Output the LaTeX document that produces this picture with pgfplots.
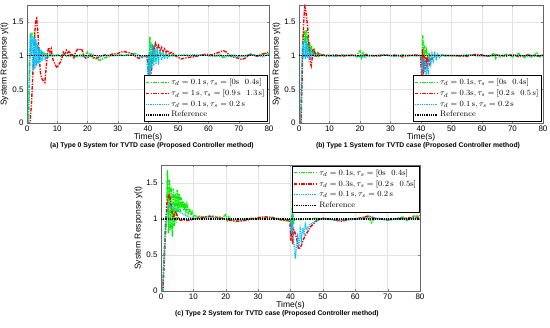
\documentclass[border=0pt]{standalone}
\usepackage{fontspec}
\setsansfont{Liberation Sans}
\usepackage{pgfplots}
\pgfplotsset{compat=1.18}
\definecolor{cgreen}{RGB}{0,240,0}
\definecolor{cred}{RGB}{255,0,0}
\definecolor{ccyan}{RGB}{0,190,255}
\pgfplotsset{
 myax/.style={
  scale only axis, xmin=0, xmax=80, ymin=0, ymax=1.75,
  xtick={0,10,...,80}, ytick={0,0.5,1,1.5},
  grid=major, grid style={gray!22, line width=0.3pt},
  axis line style={gray!80!black, line width=0.4pt},
  major tick length=2pt,
  tick label style={font=\sffamily\fontsize{8}{9}\selectfont},
  /pgf/number format/assume math mode=true,
  label style={font=\sffamily\fontsize{8.5}{9}\selectfont},
  xlabel={Time(s)}, ylabel={System Response y(t)},
  xlabel style={yshift=5pt},
  ylabel style={yshift=-3pt},
  xticklabel style={yshift=1pt},
  legend cell align=left,
  legend style={font=\fontsize{8}{9}\selectfont, draw=black, line width=0.4pt, fill=white, inner sep=1.2pt, row sep=-0.3pt},
  legend image code/.code={\draw[#1] plot coordinates {(0cm,0cm) (0.8cm,0cm)};},
 },
 gr/.style={color=cgreen, line width=1.4pt, dash pattern=on 3.5pt off 1.3pt on 1.2pt off 1.3pt},
 rd/.style={color=cred, line width=1.4pt, dash pattern=on 3.5pt off 1.3pt on 1.2pt off 1.3pt},
 cy/.style={color=ccyan, line width=1.4pt, dash pattern=on 0.9pt off 0.9pt},
 rf/.style={color=black, line width=1.4pt, dash pattern=on 0.9pt off 0.9pt},
}
\begin{document}
\begin{tikzpicture}
\useasboundingbox (0,0) rectangle (550pt,328pt);
% ---------------- (a)
\begin{axis}[myax, at={(27pt,205pt)}, anchor=south west, width=242pt, height=118pt,
  legend style={at={(0.995,0.01)}, anchor=south east}]
\addplot[gr] coordinates {(0,0) (0.5,0) (1.0,1.0) (1.2,1.33) (1.6,1.32) (2.0,1.33) (2.5,1.34) (2.8,1.2) (3.2,1.15) (3.6,1.08) (4,1.12) (4.5,1.02) (5,1.05) (5.5,0.98) (6,1.03) (7,1.0) (8,1.02) (9,1.0) (10,1.01) (11,0.99) (12,1.02) (13,0.99) (14,1.01) (15,1.0) (16,0.98) (17,1.0) (18,1.02) (19,0.98) (20,1.05) (20.5,0.98) (21,1.04) (22,0.96) (23,0.95) (24,0.93) (25,0.95) (26,0.97) (27,0.99) (28,1.0) (30,1.01) (32,1.0) (34,1.02) (36,1.03) (37,1.0) (38,0.98) (39,0.99) (40,1.0) (40.3,0.72) (40.6,1.28) (41,0.8) (41.4,1.18) (41.8,0.9) (42.2,1.1) (42.6,0.95) (43,1.06) (43.5,0.98) (44,1.04) (45,1.0) (46,1.02) (47,0.99) (48,1.01) (50,1.0) (52,1.01) (54,0.99) (56,1.0) (58,1.01) (60,1.0) (62,0.99) (64,1.02) (65,0.96) (66,1.0) (68,1.01) (70,0.99) (72,1.0) (74,1.02) (76,0.99) (78,1.03) (80,1.02)};
\addlegendentry{$\tau_d = 0.1\,\mathrm{s}, \tau_s = [0\mathrm{s}\ \ 0.4\mathrm{s}]$}
\addplot[rd] coordinates {(0,0) (1.0,0) (1.5,0.3) (2,0.8) (2.5,1.3) (2.9,1.52) (3.2,1.55) (3.6,1.35) (4,1.0) (4.5,0.72) (5,0.65) (5.5,0.62) (5.9,0.6) (6.3,0.8) (6.8,1.05) (7.2,1.12) (7.6,1.05) (8,1.1) (8.5,0.95) (9,0.9) (9.5,0.85) (10,0.82) (10.5,0.87) (11,0.9) (11.5,0.96) (12,1.05) (12.5,1.02) (13,1.08) (13.5,1.04) (14,1.07) (14.5,1.0) (15,1.03) (15.5,0.97) (16,1.05) (16.5,1.08) (17,1.1) (17.5,1.09) (18,1.1) (18.5,1.05) (19,0.98) (19.5,0.96) (20,0.97) (21,1.0) (22,0.97) (23,0.96) (24,0.98) (25,1.0) (26,1.01) (27,1.0) (28,1.02) (30,1.03) (31,1.05) (32,1.06) (33,1.05) (34,1.04) (35,1.02) (36,0.98) (37,0.96) (38,0.97) (39,0.99) (39.8,1.0) (40.1,0.75) (40.4,0.66) (40.8,0.65) (41.2,0.8) (41.6,1.15) (42,1.08) (42.5,1.18) (43,1.1) (43.5,1.15) (44,1.07) (44.5,1.12) (45,1.06) (45.5,1.1) (46,1.05) (46.5,1.08) (47,1.03) (48,1.05) (49,1.0) (50,0.97) (51,0.95) (52,0.96) (53,0.97) (55,0.98) (57,1.0) (59,1.02) (61,1.01) (63,1.04) (64,1.06) (65,1.07) (66,1.05) (67,1.0) (68,0.98) (69,0.97) (70,0.96) (71,0.94) (72,0.96) (73,0.99) (74,1.02) (75,1.01) (76,0.99) (77,1.0) (78,1.02) (79,1.04) (80,1.05)};
\addlegendentry{$\tau_d = 1\,\mathrm{s}, \tau_s = [0.9\,\mathrm{s}\ \ 1.3\,\mathrm{s}]$}
\addplot[cy] coordinates {(0,0) (0.4,0) (0.8,0.9) (1.1,1.3) (1.4,1.0) (1.7,1.3) (2.0,0.78) (2.3,1.28) (2.6,0.8) (2.9,1.25) (3.2,0.85) (3.5,1.18) (3.8,0.88) (4.1,1.12) (4.4,0.9) (4.7,1.08) (5.0,0.92) (5.5,1.05) (6,0.95) (6.5,1.03) (7,0.97) (8,1.01) (9,0.99) (10,1.0) (12,1.01) (14,0.99) (16,1.01) (18,0.98) (20,0.99) (22,1.01) (24,0.98) (26,1.0) (30,1.0) (35,1.01) (38,0.98) (39.5,1.0) (40.1,0.65) (40.4,1.05) (40.7,0.7) (41,1.2) (41.3,0.8) (41.6,1.15) (41.9,0.85) (42.3,1.1) (42.7,0.88) (43.1,1.07) (43.5,0.92) (44,1.05) (44.5,0.93) (45,1.03) (45.5,0.95) (46,1.02) (46.5,0.97) (47,1.01) (48,0.99) (50,1.0) (55,1.01) (60,1.0) (65,0.99) (70,0.98) (75,1.01) (78,0.98) (80,1.03)};
\addlegendentry{$\tau_d = 0.1\,\mathrm{s}, \tau_s = 0.2\,\mathrm{s}$}
\addplot[rf] coordinates {(0,1) (80,1)};
\addlegendentry{Reference}
\end{axis}
% ---------------- (b)
\begin{axis}[myax, at={(299pt,205pt)}, anchor=south west, width=244pt, height=118pt,
  legend style={at={(0.995,0.01)}, anchor=south east}]
\addplot[gr] coordinates {(0,0) (0.5,0) (0.8,0.5) (1.1,1.0) (1.4,1.35) (1.7,1.37) (2.0,1.2) (2.3,1.38) (2.6,1.1) (2.9,1.3) (3.2,1.05) (3.5,1.2) (3.8,1.0) (4.1,1.15) (4.5,1.0) (5,1.08) (5.5,0.98) (6,1.04) (6.5,0.99) (7,1.02) (8,1.0) (9,1.01) (10,1.0) (12,0.99) (14,1.01) (16,1.0) (18,1.0) (19,0.98) (19.5,1.05) (20,1.07) (20.5,0.97) (21,1.04) (21.5,0.96) (22,1.02) (23,0.99) (25,1.0) (28,1.01) (31,0.99) (34,1.01) (37,1.0) (40,1.0) (40.3,0.85) (40.6,1.3) (40.9,0.9) (41.2,1.15) (41.5,0.95) (41.8,1.07) (42.2,0.97) (42.6,1.04) (43,0.99) (44,1.02) (45,1.0) (47,1.01) (50,1.0) (53,0.99) (56,1.01) (60,1.0) (63,1.0) (64,1.04) (64.5,0.96) (65,1.02) (66,0.98) (68,1.02) (70,0.98) (72,1.03) (74,0.97) (75,1.03) (76,0.97) (78,1.04) (79,0.98) (80,1.02)};
\addlegendentry{$\tau_d = 0.1\mathrm{s}, \tau_s = [0\mathrm{s}\ \ 0.4\mathrm{s}]$}
\addplot[rd] coordinates {(0,0) (0.7,0) (1.0,0.6) (1.3,1.2) (1.6,1.55) (1.9,1.72) (2.2,1.68) (2.5,1.55) (2.8,1.45) (3.1,1.25) (3.4,1.05) (3.7,0.9) (4.0,0.85) (4.3,0.95) (4.6,1.1) (5.0,1.08) (5.5,1.0) (6,0.98) (6.5,1.03) (7,0.99) (8,1.01) (9,0.99) (10,1.0) (12,1.01) (14,0.99) (16,1.0) (18,1.01) (20,0.99) (22,1.01) (24,1.0) (26,0.99) (28,1.01) (30,1.0) (32,1.01) (34,0.98) (36,1.0) (38,1.01) (39.8,1.0) (40.2,0.7) (40.5,1.1) (40.8,0.72) (41.1,1.0) (41.4,0.8) (41.7,0.98) (42,0.85) (42.3,0.95) (42.7,0.88) (43.1,0.97) (43.5,0.93) (44,0.99) (45,1.0) (50,1.0) (55,0.99) (58,1.02) (60,1.01) (62,0.99) (65,1.01) (68,0.99) (70,1.02) (72,0.98) (75,1.01) (78,0.99) (80,1.0)};
\addlegendentry{$\tau_d = 0.3\mathrm{s}, \tau_s = [0.2\,\mathrm{s}\ \ 0.5\,\mathrm{s}]$}
\addplot[cy] coordinates {(0,0) (0.5,0) (0.9,0.8) (1.2,1.2) (1.5,0.98) (1.8,1.25) (2.1,0.95) (2.4,1.22) (2.7,0.97) (3.0,1.15) (3.3,0.98) (3.7,1.08) (4.1,0.98) (4.5,1.04) (5,0.99) (6,1.01) (8,1.0) (12,0.99) (16,1.01) (20,0.98) (24,1.0) (28,1.01) (32,0.99) (36,1.0) (40,1.0) (40.3,0.8) (40.6,0.9) (41,0.75) (41.3,0.95) (41.7,0.6) (42,0.9) (42.4,0.78) (42.8,1.0) (43.2,0.88) (43.6,1.02) (44,0.92) (44.5,1.03) (45,0.95) (45.5,1.02) (46,0.97) (47,1.01) (48,0.99) (50,1.0) (55,1.01) (60,0.99) (65,1.0) (70,1.01) (75,0.99) (80,1.0)};
\addlegendentry{$\tau_d = 0.1\,\mathrm{s}, \tau_s = 0.2\,\mathrm{s}$}
\addplot[rf] coordinates {(0,1) (80,1)};
\addlegendentry{Reference}
\end{axis}
% ---------------- (c)
\begin{axis}[myax, at={(161pt,37pt)}, anchor=south west, width=259pt, height=126pt,
  legend style={at={(0.998,0.995)}, anchor=north east}]
\addplot[gr] coordinates {(0,0) (0.5,0) (0.8,0.4) (1.1,0.7) (1.4,1.0) (1.7,1.1) (2.0,1.68) (2.3,0.8) (2.6,1.55) (2.9,0.85) (3.2,1.45) (3.5,0.75) (3.8,1.42) (4.1,0.9) (4.4,1.35) (4.7,0.95) (5.0,1.4) (5.3,1.1) (5.6,1.35) (5.9,1.1) (6.2,1.3) (6.5,1.15) (6.8,1.25) (7.1,1.12) (7.4,1.22) (7.7,1.1) (8.0,1.2) (8.4,1.08) (8.8,1.15) (9.2,1.05) (9.6,1.1) (10,1.03) (10.5,1.06) (11,1.02) (12,1.04) (13,1.02) (14,1.03) (15,1.02) (16,1.04) (17,1.03) (18,1.0) (19,1.02) (20,1.06) (20.5,0.98) (21,1.03) (22,0.97) (23,0.96) (24,0.97) (25,0.99) (26,1.0) (28,1.01) (30,1.0) (32,1.02) (34,1.03) (36,1.0) (38,0.98) (39.5,0.97) (40,1.0) (40.3,0.85) (40.6,1.25) (40.9,0.92) (41.2,1.0) (41.5,0.98) (42,1.0) (43,0.99) (45,1.0) (48,1.01) (50,1.0) (53,1.0) (55,0.99) (58,1.0) (60,1.0) (62,1.01) (64,1.04) (65,0.95) (66,1.01) (68,1.0) (70,0.98) (72,1.0) (75,1.03) (76,0.98) (78,1.04) (80,1.05)};
\addlegendentry{$\tau_d = 0.1\mathrm{s}, \tau_s = [0\mathrm{s}\ \ 0.4\mathrm{s}]$}
\addplot[rd] coordinates {(0,0) (0.6,0) (1.0,0.4) (1.4,0.8) (1.8,1.2) (2.2,1.3) (2.6,1.35) (3.0,1.22) (3.4,1.1) (3.8,1.02) (4.2,1.08) (4.6,1.1) (5.0,1.05) (5.5,1.0) (6,0.98) (7,0.99) (8,0.98) (9,0.98) (10,1.0) (12,1.02) (14,1.03) (15,1.04) (16,1.03) (17,1.02) (18,1.03) (19,1.01) (20,0.99) (22,0.98) (24,0.97) (26,0.98) (28,1.0) (30,1.02) (32,1.03) (34,1.02) (36,1.0) (38,0.98) (39.8,0.99) (40.1,0.7) (40.4,0.95) (40.7,0.65) (41,0.85) (41.5,0.8) (42,0.7) (42.5,0.58) (43,0.6) (43.5,0.65) (44,0.72) (45,0.8) (46,0.88) (47,0.93) (48,0.97) (49,1.0) (50,1.01) (52,1.0) (54,0.98) (56,0.97) (58,0.99) (60,1.0) (62,1.02) (64,1.04) (65,1.03) (66,1.01) (68,1.0) (70,0.99) (72,1.0) (75,1.01) (78,1.02) (80,1.03)};
\addlegendentry{$\tau_d = 0.3\mathrm{s}, \tau_s = [0.2\,\mathrm{s}\ \ 0.5\mathrm{s}]$}
\addplot[cy] coordinates {(0,0) (0.5,0) (1.0,0.5) (1.5,0.9) (2.0,1.12) (2.5,1.2) (3.0,1.17) (4,1.15) (5,1.12) (6,1.09) (7,1.06) (8,1.04) (9,1.02) (10,1.01) (12,1.0) (15,1.02) (20,1.0) (25,0.99) (30,1.0) (35,1.01) (40,1.0) (40.3,0.8) (40.6,1.1) (40.9,0.75) (41.2,0.6) (41.5,0.45) (41.8,0.6) (42.2,0.75) (42.6,0.65) (43,0.85) (43.4,0.72) (43.8,0.88) (44.2,0.8) (44.6,0.92) (45,0.85) (46,0.92) (47,0.95) (48,0.98) (50,1.0) (55,0.98) (60,1.0) (65,1.02) (70,0.99) (75,1.0) (80,1.01)};
\addlegendentry{$\tau_d = 0.1\,\mathrm{s}, \tau_s = 0.2\,\mathrm{s}$}
\addplot[rf] coordinates {(0,1) (80,1)};
\addlegendentry{Reference}
\end{axis}
% captions
\node[font=\sffamily\bfseries\fontsize{6.8}{8}\selectfont] at (152pt,182pt) {(a) Type 0 System for TVTD case (Proposed Controller method)};
\node[font=\sffamily\bfseries\fontsize{6.8}{8}\selectfont] at (418pt,182pt) {(b) Type 1 System for TVTD case (Proposed Controller method)};
\node[font=\sffamily\bfseries\fontsize{6.8}{8}\selectfont] at (277pt,14pt) {(c) Type 2 System for TVTD case (Proposed Controller method)};
\end{tikzpicture}
\end{document}
